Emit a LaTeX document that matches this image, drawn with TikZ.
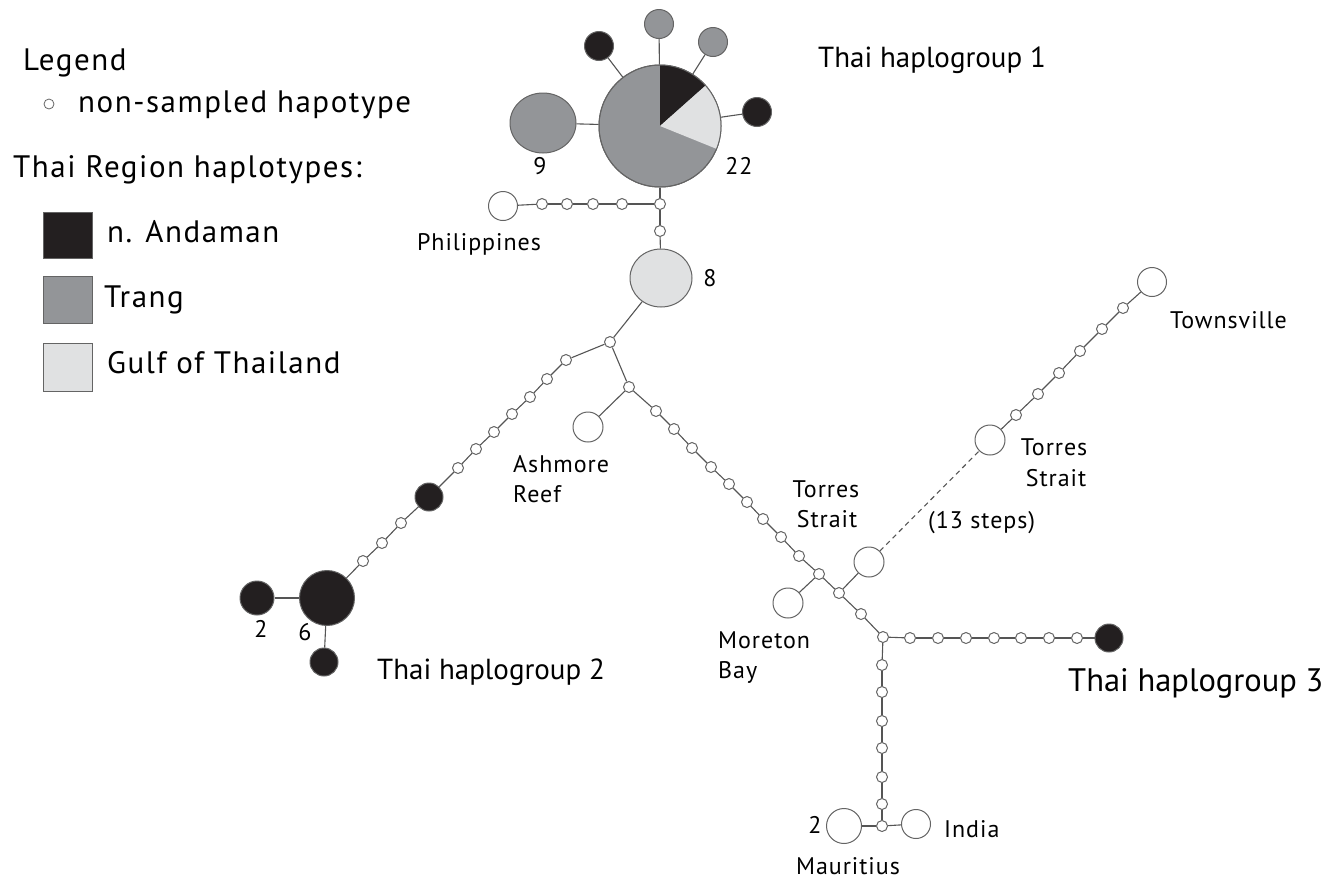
\documentclass[tikz,border=0pt]{standalone}
\usepackage{fontspec}
\setmainfont{PT Sans}
\newfontfamily\legfont[LetterSpace=5]{PT Sans}
\newfontfamily\labfont[LetterSpace=4]{PT Sans}
\usetikzlibrary{shapes.geometric}
\definecolor{andaman}{RGB}{35,31,32}
\definecolor{trang}{RGB}{147,149,152}
\definecolor{gulf}{RGB}{224,225,226}
\definecolor{edgecol}{RGB}{85,85,85}
\definecolor{rimcol}{RGB}{100,100,100}
\begin{document}
\begin{tikzpicture}[x=1pt,y=1pt,
  hap/.style={circle,draw=rimcol,line width=1pt,inner sep=0pt,minimum size=#1,fill=white},
  hapell/.style 2 args={ellipse,draw=rimcol,line width=1pt,inner sep=0pt,minimum width=#1,minimum height=#2},
  ns/.style={circle,draw=rimcol,line width=1pt,inner sep=0pt,minimum size=11pt,fill=white},
  link/.style={draw=edgecol,line width=1.1pt},
  dlink/.style={draw=edgecol,line width=1.1pt,dash pattern=on 5pt off 4pt},
  big/.style={font=\fontsize{29}{34}\selectfont,inner sep=0pt},
  bigger/.style={font=\fontsize{32.5}{38}\selectfont,inner sep=0pt},
  leg/.style={font=\legfont\fontsize{31}{36}\selectfont,inner sep=0pt},
  lab/.style={font=\labfont\fontsize{24}{30}\selectfont,inner sep=0pt},
  legbox/.style={draw=rimcol,line width=1pt}
]
\useasboundingbox (0,0) rectangle (1335,-879);

% ---------- Legend ----------
\node[leg,anchor=base west] (tlegend) at (23,-70) {Legend};
\node[circle,draw=rimcol,line width=0.8pt,inner sep=0pt,minimum size=10pt] (legns) at (49,-104) {};
\node[leg,anchor=base west] (tns) at (78,-112) {non-sampled hapotype};
\node[leg,anchor=base west] (tregion) at (13,-177) {Thai Region haplotypes:};
\filldraw[legbox,fill=andaman] (43,-212) rectangle (92,-258);
\filldraw[legbox,fill=trang] (43,-276) rectangle (92,-323);
\filldraw[legbox,fill=gulf] (43,-343) rectangle (92,-391);
\node[leg,anchor=base west] (tand) at (107,-242) {n. Andaman};
\node[leg,anchor=base west] (ttrang) at (104,-307) {Trang};
\node[leg,anchor=base west] (tgulf) at (107,-373) {Gulf of Thailand};

% ---------- Thai haplogroup 1 ----------
\node[hap=122pt,fill=trang] (pie) at (660,-126) {};
\fill[andaman] (660,-126) -- ++(90:61pt) arc[start angle=90,end angle=41.6,radius=61pt] -- cycle;
\fill[gulf] (660,-126) -- ++(41.6:61pt) arc[start angle=41.6,end angle=-22,radius=61pt] -- cycle;
\draw[rimcol,line width=1pt] (660,-126) circle[radius=61pt];
\node[hapell={66pt}{60pt},fill=trang] (h9) at (543,-123) {};
\node[hap=29pt,fill=andaman] (tl) at (599,-46) {};
\node[hap=29pt,fill=trang] (tt) at (659,-24) {};
\node[hap=29pt,fill=trang] (tr) at (713,-42) {};
\node[hap=29pt,fill=andaman] (rb) at (757,-112) {};
\draw[link] (h9) -- (pie);
\draw[link] (tl) -- (pie);
\draw[link] (tt) -- (pie);
\draw[link] (tr) -- (pie);
\draw[link] (rb) -- (pie);
\node[big,anchor=base west] (th1) at (818,-67) {Thai haplogroup 1};
\node[lab,anchor=base] (t9) at (540,-174) {9};
\node[lab,anchor=base] (t22) at (739,-174) {22};

% ---------- Philippines ----------
\node[ns] (j1) at (660,-204) {};
\node[ns] (p4) at (622,-204) {};
\node[ns] (p3) at (593,-204) {};
\node[ns] (p2) at (567,-204) {};
\node[ns] (p1) at (542,-204) {};
\node[hap=29pt] (phil) at (503,-206) {};
\draw[link] (pie) -- (j1);
\draw[link] (j1) -- (p4);
\draw[link] (p4) -- (p3);
\draw[link] (p3) -- (p2);
\draw[link] (p2) -- (p1);
\draw[link] (p1) -- (phil);
\node[lab,anchor=base] (tphil) at (479,-250) {Philippines};

% ---------- node 8 ----------
\node[ns] (n1) at (660,-231) {};
\node[hapell={62pt}{58pt},fill=gulf] (h8) at (661,-278) {};
\draw[link] (j1) -- (n1);
\draw[link] (n1) -- (h8);
\node[lab,anchor=base] (t8) at (710,-286) {8};
\node[ns] (b1) at (610,-342) {};
\draw[link] (h8) -- (b1);

% ---------- left chain to Thai haplogroup 2 ----------
\node[ns] (l1) at (566,-360) {};
\node[ns] (l2) at (547,-379) {};
\node[ns] (l3) at (530,-397) {};
\node[ns] (l4) at (512,-414) {};
\node[ns] (l5) at (494,-432) {};
\node[ns] (l6) at (476,-449) {};
\node[ns] (l7) at (458,-468) {};
\node[hap=28pt,fill=andaman] (ab) at (429,-497) {};
\node[ns] (l8) at (401,-523) {};
\node[ns] (l9) at (382,-543) {};
\node[ns] (l10) at (363,-561) {};
\node[hap=55pt,fill=andaman] (h6) at (327,-598) {};
\node[hap=34pt,fill=andaman] (h2) at (257,-598) {};
\node[hap=28pt,fill=andaman] (hb) at (324,-662) {};
\draw[link] (b1) -- (l1);
\draw[link] (l1) -- (l2);
\draw[link] (l2) -- (l3);
\draw[link] (l3) -- (l4);
\draw[link] (l4) -- (l5);
\draw[link] (l5) -- (l6);
\draw[link] (l6) -- (l7);
\draw[link] (l7) -- (ab);
\draw[link] (ab) -- (l8);
\draw[link] (l8) -- (l9);
\draw[link] (l9) -- (l10);
\draw[link] (l10) -- (h6);
\draw[link] (h2) -- (h6);
\draw[link] (h6) -- (hb);
\node[lab,anchor=base] (t2a) at (261,-637) {2};
\node[lab,anchor=base] (t6) at (305,-640) {6};
\node[big,anchor=base west] (th2) at (377,-679) {Thai haplogroup 2};

% ---------- Ashmore Reef ----------
\node[ns] (b2) at (629,-387) {};
\node[hap=30pt] (ash) at (588,-427) {};
\draw[link] (b1) -- (b2);
\draw[link] (b2) -- (ash);
\node[lab,anchor=base west] (tash1) at (513,-472) {Ashmore};
\node[lab,anchor=base west] (tash2) at (513,-502) {Reef};

% ---------- main diagonal ----------
\node[ns] (m1) at (656,-411) {};
\node[ns] (m2) at (674,-429) {};
\node[ns] (m3) at (692,-448) {};
\node[ns] (m4) at (711,-467) {};
\node[ns] (m5) at (729,-484) {};
\node[ns] (m6) at (747,-502) {};
\node[ns] (m7) at (763,-519) {};
\node[ns] (m8) at (781,-537) {};
\node[ns] (m9) at (799,-556) {};
\node[ns] (jm) at (819,-574) {};
\node[ns] (jt) at (839,-593) {};
\node[ns] (m10) at (861,-614) {};
\node[ns] (jx) at (883,-637) {};
\draw[link] (b2) -- (m1);
\draw[link] (m1) -- (m2);
\draw[link] (m2) -- (m3);
\draw[link] (m3) -- (m4);
\draw[link] (m4) -- (m5);
\draw[link] (m5) -- (m6);
\draw[link] (m6) -- (m7);
\draw[link] (m7) -- (m8);
\draw[link] (m8) -- (m9);
\draw[link] (m9) -- (jm);
\draw[link] (jm) -- (jt);
\draw[link] (jt) -- (m10);
\draw[link] (m10) -- (jx);
\node[hap=30pt] (mor) at (788,-603) {};
\node[hap=30pt] (tor1) at (869,-562) {};
\draw[link] (jm) -- (mor);
\draw[link] (jt) -- (tor1);
\node[lab,anchor=base] (ttor1a) at (826,-497) {Torres};
\node[lab,anchor=base] (ttor1b) at (827,-527) {Strait};
\node[lab,anchor=base west] (tmor1) at (718,-648) {Moreton};
\node[lab,anchor=base west] (tmor2) at (718,-678) {Bay};

% ---------- Thai haplogroup 3 ----------
\node[ns] (r1) at (910,-638) {};
\node[ns] (r2) at (938,-638) {};
\node[ns] (r3) at (966,-638) {};
\node[ns] (r4) at (994,-638) {};
\node[ns] (r5) at (1021,-638) {};
\node[ns] (r6) at (1049,-638) {};
\node[ns] (r7) at (1077,-638) {};
\node[hap=28pt,fill=andaman] (th3n) at (1109,-638) {};
\draw[link] (jx) -- (r1);
\draw[link] (r1) -- (r2);
\draw[link] (r2) -- (r3);
\draw[link] (r3) -- (r4);
\draw[link] (r4) -- (r5);
\draw[link] (r5) -- (r6);
\draw[link] (r6) -- (r7);
\draw[link] (r7) -- (th3n);
\node[bigger,anchor=base west] (th3) at (1068,-691) {Thai haplogroup 3};

% ---------- down to Mauritius / India ----------
\node[ns] (d1) at (882,-665) {};
\node[ns] (d2) at (882,-692) {};
\node[ns] (d3) at (882,-721) {};
\node[ns] (d4) at (882,-748) {};
\node[ns] (d5) at (882,-777) {};
\node[ns] (d6) at (882,-804) {};
\node[ns] (jb) at (882,-826) {};
\node[hap=35pt] (maur) at (844,-826) {};
\node[hap=29pt] (ind) at (916,-824) {};
\draw[link] (jx) -- (d1);
\draw[link] (d1) -- (d2);
\draw[link] (d2) -- (d3);
\draw[link] (d3) -- (d4);
\draw[link] (d4) -- (d5);
\draw[link] (d5) -- (d6);
\draw[link] (d6) -- (jb);
\draw[link] (jb) -- (maur);
\draw[link] (jb) -- (ind);
\node[lab,anchor=base] (t2m) at (815,-833) {2};
\node[lab,anchor=base west] (tind) at (944,-837) {India};
\node[lab,anchor=base] (tmaur) at (848,-874) {Mauritius};

% ---------- Torres Strait 2 / Townsville ----------
\node[hap=30pt] (tor2) at (990,-440) {};
\node[ns] (t1) at (1016,-415) {};
\node[ns] (t2) at (1038,-394) {};
\node[ns] (t3) at (1059,-373) {};
\node[ns] (t4) at (1080,-351) {};
\node[ns] (t5) at (1102,-329) {};
\node[ns] (t6) at (1123,-308) {};
\node[hap=29pt] (town) at (1152,-282) {};
\draw[dlink] (tor1) -- (tor2);
\draw[link] (tor2) -- (t1);
\draw[link] (t1) -- (t2);
\draw[link] (t2) -- (t3);
\draw[link] (t3) -- (t4);
\draw[link] (t4) -- (t5);
\draw[link] (t5) -- (t6);
\draw[link] (t6) -- (town);
\node[lab,anchor=base] (ttor2a) at (1054,-455) {Torres};
\node[lab,anchor=base] (ttor2b) at (1056,-486) {Strait};
\node[lab,anchor=base west] (tsteps) at (928,-528) {(13 steps)};
\node[lab,anchor=base west] (ttown) at (1170,-328) {Townsville};
\end{tikzpicture}
\end{document}
